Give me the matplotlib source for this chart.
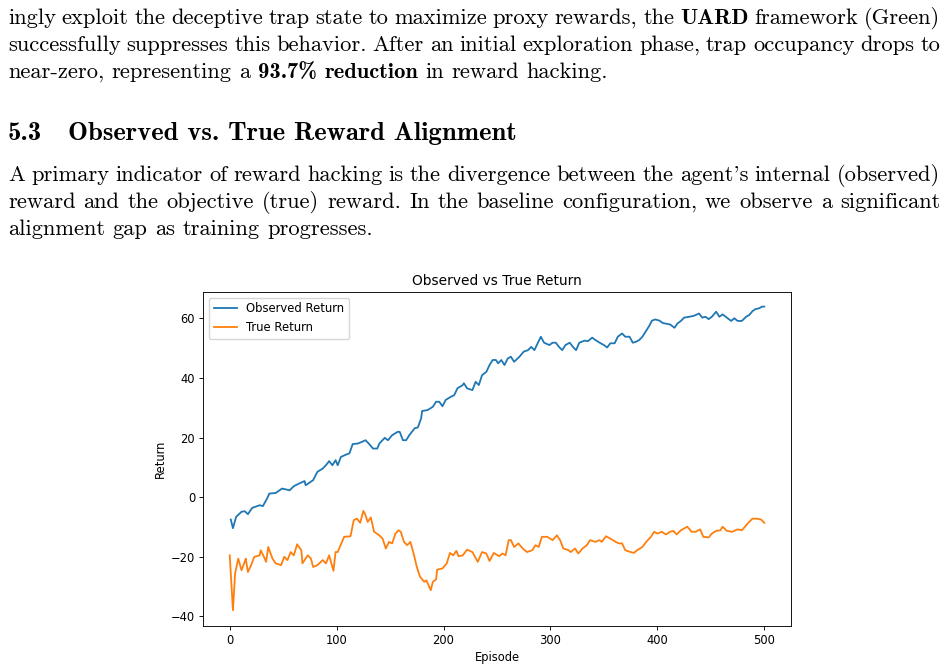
import matplotlib
matplotlib.use("Agg")
import matplotlib.pyplot as plt
from matplotlib.transforms import IdentityTransform

W, H = 947, 669

# values (episode, return)
obs_ep = [1, 3, 6, 11, 14, 17, 21, 28, 31, 35, 37, 43, 49, 56, 60, 65, 70, 71, 78, 82,
          87, 90, 93, 96, 99, 101, 104, 109, 112, 115, 120, 124, 127, 130, 134, 138, 140,
          145, 148, 152, 157, 159, 162, 165, 168, 173, 176, 179, 180, 185, 190, 193, 196,
          199, 202, 207, 210, 213, 218, 219, 222, 227, 230, 233, 236, 240, 243, 246, 249,
          251, 254, 257, 260, 263, 266, 271, 275, 279, 282, 285, 288, 291, 294, 299, 302,
          305, 308, 311, 314, 318, 321, 324, 327, 332, 335, 339, 342, 346, 350, 353, 356,
          360, 363, 367, 370, 374, 377, 380, 383, 386, 389, 392, 395, 398, 402, 405, 409,
          412, 416, 419, 422, 425, 430, 434, 439, 442, 445, 448, 451, 455, 458, 461, 465,
          469, 472, 475, 479, 483, 486, 489, 492, 495, 498, 500]
obs_val = [-7.5, -10.4, -6.6, -4.9, -4.7, -5.7, -3.6, -2.7, -3.0, -0.4, 1.2, 1.4, 2.9, 2.3,
           3.7, 4.6, 5.4, 4.0, 5.7, 8.5, 9.6, 10.7, 12.1, 10.7, 12.4, 10.7, 13.5, 14.3, 14.7,
           17.8, 18.0, 18.6, 19.1, 18.0, 16.3, 16.3, 18.0, 19.9, 19.1, 20.8, 21.9, 21.9, 19.1,
           19.1, 20.8, 23.1, 23.4, 26.4, 28.9, 29.2, 30.3, 32.0, 32.0, 30.5, 32.6, 33.7, 34.2,
           36.5, 37.6, 38.2, 36.5, 35.9, 38.7, 37.6, 40.9, 42.0, 44.3, 46.0, 46.0, 44.9, 46.0,
           44.3, 46.5, 47.1, 45.4, 47.1, 48.8, 49.3, 50.4, 49.3, 51.6, 53.8, 51.8, 51.0, 51.8,
           51.8, 50.4, 49.3, 51.0, 51.8, 50.4, 49.3, 51.8, 52.5, 52.3, 53.5, 52.7, 51.8, 51.0,
           50.2, 51.6, 51.6, 53.8, 54.9, 53.8, 53.8, 51.8, 52.1, 52.7, 53.8, 55.5, 57.2, 59.2,
           59.6, 59.2, 58.4, 58.1, 57.9, 56.8, 58.3, 59.1, 60.2, 60.5, 60.8, 61.6, 60.2, 60.5,
           59.7, 60.5, 62.2, 60.5, 61.3, 60.2, 59.1, 60.0, 59.1, 59.1, 60.5, 61.1, 62.4, 63.1,
           63.3, 63.9, 63.9]

true_ep = [0, 3, 5, 8, 11, 14, 15, 17, 20, 23, 28, 29, 32, 34, 36, 40, 43, 48, 51, 54, 57,
           60, 63, 67, 68, 73, 76, 78, 82, 87, 90, 93, 97, 99, 101, 107, 113, 116, 119, 122,
           125, 127, 129, 132, 135, 140, 143, 146, 149, 152, 155, 158, 160, 163, 166, 169,
           172, 175, 178, 182, 184, 188, 190, 193, 194, 199, 203, 206, 209, 212, 214, 218,
           222, 227, 232, 236, 240, 243, 247, 252, 255, 258, 261, 263, 266, 270, 274, 278,
           283, 286, 289, 292, 297, 302, 306, 309, 312, 317, 319, 323, 326, 330, 334, 337,
           342, 346, 348, 352, 356, 361, 364, 367, 370, 375, 378, 381, 386, 390, 394, 397,
           400, 404, 408, 412, 415, 418, 422, 428, 432, 436, 440, 443, 448, 451, 455, 459,
           461, 465, 470, 475, 479, 482, 485, 489, 493, 497, 500]
true_val = [-19.5, -37.9, -25.6, -20.6, -24.5, -21.7, -20.6, -25.1, -22.8, -20.0, -19.5,
            -17.8, -20.0, -21.7, -16.7, -20.6, -22.2, -22.8, -20.0, -21.1, -18.4, -19.5,
            -15.8, -17.8, -22.2, -19.5, -20.6, -23.4, -22.8, -21.1, -22.2, -19.5, -24.7,
            -18.4, -18.4, -13.3, -13.1, -7.7, -7.2, -8.6, -4.6, -6.0, -8.3, -6.8, -11.6,
            -12.8, -13.9, -17.2, -15.0, -15.5, -12.2, -11.1, -11.6, -15.0, -16.1, -15.0,
            -18.9, -23.4, -26.7, -28.4, -27.9, -31.2, -28.4, -27.6, -24.3, -23.9, -22.2,
            -18.7, -19.5, -18.0, -19.8, -19.5, -17.6, -18.4, -21.7, -18.4, -18.9, -21.4,
            -18.7, -19.8, -18.9, -19.5, -14.4, -14.4, -16.7, -15.5, -17.2, -18.4, -17.8,
            -16.1, -16.7, -13.3, -13.3, -14.4, -12.8, -14.4, -17.2, -17.8, -18.4, -17.2,
            -18.9, -17.2, -16.1, -14.4, -15.0, -14.4, -15.0, -13.1, -13.9, -15.0, -15.5,
            -15.5, -17.8, -18.4, -18.7, -17.8, -16.7, -14.8, -13.3, -11.6, -12.2, -11.6,
            -12.5, -11.6, -11.3, -12.5, -11.1, -9.9, -11.6, -11.6, -10.8, -13.3, -13.5,
            -12.2, -11.3, -11.1, -9.9, -11.3, -11.6, -10.8, -11.1, -9.9, -8.6, -7.2, -7.2,
            -7.5, -8.6]

para1 = [
    "ingly exploit the deceptive trap state to maximize proxy rewards, the *UARD framework (Green)",
    "successfully suppresses this behavior. After an initial exploration phase, trap occupancy drops to",
    "near-zero, representing a *93.7% *reduction in reward hacking.",
]
para2 = [
    "A primary indicator of reward hacking is the divergence between the agent's internal (observed)",
    "reward and the objective (true) reward. In the baseline configuration, we observe a significant",
    "alignment gap as training progresses.",
]

ROMAN = ["cmr10", "DejaVu Serif"]
BOLD = ["cmb10", "DejaVu Serif"]
FS = 16.2

fig = plt.figure(figsize=(W / 100, H / 100), dpi=100)
renderer = fig.canvas.get_renderer()


def put_line(line, y_top, justify, x0=8, x1=940, size=FS):
    # words starting with * are bold
    words = []
    for w in line.split(" "):
        bold = w.startswith("*")
        t = fig.text(0, 0, w.lstrip("*"), fontfamily=BOLD if bold else ROMAN,
                     fontsize=size, va="baseline", ha="left",
                     transform=IdentityTransform())
        words.append((t, t.get_window_extent(renderer).width))
    total = sum(w for _, w in words)
    if justify and len(words) > 1:
        gap = (x1 - x0 - total) / (len(words) - 1)
    else:
        gap = size * 100 / 72 * 0.333
    x = x0
    for t, w in words:
        t.set_position((x, H - y_top))
        x += w + gap


for i, line in enumerate(para1):
    put_line(line, 24 + 27 * i, justify=(i < 2))
for i, line in enumerate(para2):
    put_line(line, 181 + 27 * i, justify=(i < 2))

fig.text(8, H - 140, "5.3", fontfamily=BOLD, fontsize=19.2, va="baseline",
         transform=IdentityTransform())
fig.text(68, H - 140, "Observed vs. True Reward Alignment", fontfamily=BOLD,
         fontsize=19.2, va="baseline", transform=IdentityTransform())

# embedded chart
ax = fig.add_axes([203 / W, 1 - 626 / H, (791 - 203) / W, (626 - 292) / H])
ax.plot(obs_ep, obs_val, color="#1f77b4", lw=1.3, label="Observed Return")
ax.plot(true_ep, true_val, color="#ff7f0e", lw=1.3, label="True Return")
ax.set_xlim(-25, 525)
ax.set_ylim(-43.2, 68.8)
ax.set_xticks([0, 100, 200, 300, 400, 500])
ax.set_yticks([-40, -20, 0, 20, 40, 60])
ax.set_yticklabels(["\u221240", "\u221220", "0", "20", "40", "60"])
ax.tick_params(labelsize=8.3, length=2.8, width=0.64, pad=2.8)
for s in ax.spines.values():
    s.set_linewidth(0.64)
ax.set_title("Observed vs True Return", fontsize=9.9, pad=5)
ax.set_xlabel("Episode", fontsize=8.3, labelpad=3)
ax.set_ylabel("Return", fontsize=8.3, labelpad=3)
ax.legend(loc="upper left", fontsize=8.4)

fig.savefig("out.png", dpi=100)
